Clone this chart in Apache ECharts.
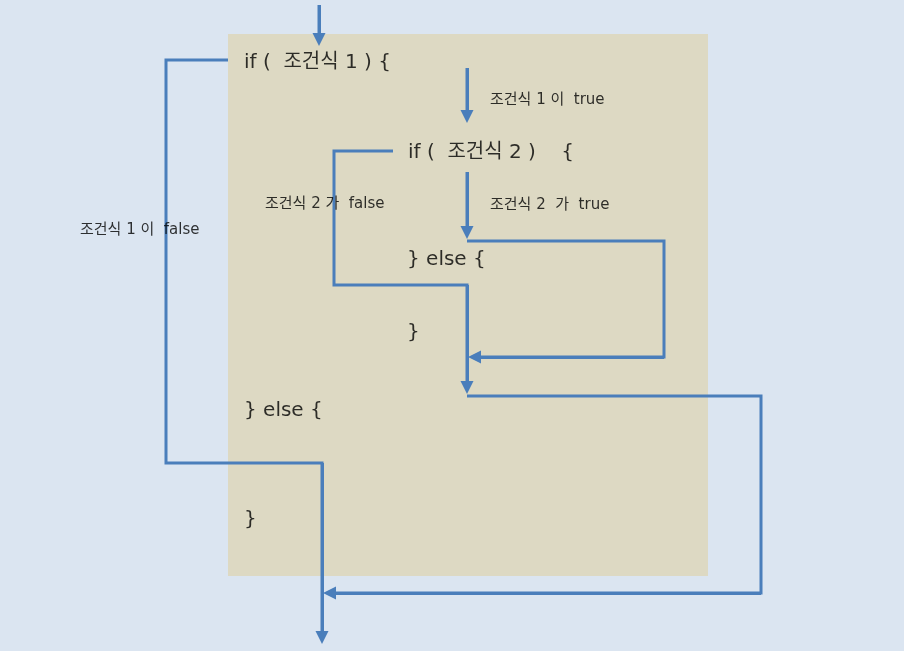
<!DOCTYPE html>
<html>
<head>
<meta charset="utf-8">
<script src="https://cdn.jsdelivr.net/npm/echarts@6/dist/echarts.min.js"></script>
<style>
  html, body { margin: 0; padding: 0; background: #dbe5f1; }
  #flow { width: 904px; height: 651px; }
</style>
</head>
<body>
<div id="flow"></div>
<script>
// diagram space: x 0..904, y 0..651 (y grows downward)
var boxArea = [[228, 34], [708, 576]];

// connector paths, last point = arrow tip
var topArrow   = [[319, 5], [319, 46]];
var falsePath1 = [[228, 60], [166, 60], [166, 463], [322, 463], [322, 644]];
var truePath1  = [[467, 68], [467, 123]];
var falsePath2 = [[393, 151], [334, 151], [334, 285], [467, 285], [467, 394]];
var truePath2  = [[467, 172], [467, 239]];
var elsePath2  = [[467, 241], [664, 241], [664, 357], [468, 357]];
var exitPath   = [[467, 396], [761, 396], [761, 593], [323, 593]];
var paths = [topArrow, falsePath1, truePath1, falsePath2, truePath2, elsePath2, exitPath];

// code text and condition labels: [text, x, y]
var codeLines = [
  ['if (  조건식 1 ) {', 244, 63],
  ['if (  조건식 2 )    {', 408, 153],
  ['} else {', 407, 260],
  ['}', 407, 333],
  ['} else {', 244, 411],
  ['}', 244, 520]
];
var condLabels = [
  ['조건식 1 이  true', 490, 100],
  ['조건식 2 가  false', 265, 204],
  ['조건식 2  가  true', 490, 205],
  ['조건식 1 이  false', 80, 230]
];

var lineColor = '#4a7ebb';
var arrowLen = 13;

var chart = echarts.init(document.getElementById('flow'));

var series = [];
series.push({
  type: 'line', z: 0, silent: true, data: [],
  markArea: {
    silent: true,
    itemStyle: { color: '#ddd9c3', opacity: 1 },
    data: [[{ coord: boxArea[0] }, { coord: boxArea[1] }]]
  }
});

var arrowSegs = [];
paths.forEach(function (p) {
  var n = p.length;
  var a = p[n - 2], b = p[n - 1];
  var dx = b[0] - a[0], dy = b[1] - a[1];
  var len = Math.sqrt(dx * dx + dy * dy);
  var end = [b[0] - dx / len * arrowLen / 2, b[1] - dy / len * arrowLen / 2];
  var pts = p.slice(0, n - 1).concat([end]);
  series.push({
    type: 'line', z: 2, silent: true, data: pts,
    showSymbol: false, symbol: 'none', animation: false,
    lineStyle: { color: lineColor, width: 3, join: 'miter' }
  });
  arrowSegs.push({ coords: [a, end] });
});

series.push({
  type: 'lines', coordinateSystem: 'cartesian2d', z: 3, silent: true,
  symbol: ['none', 'triangle'], symbolSize: [12, arrowLen],
  lineStyle: { color: lineColor, width: 3, opacity: 1 },
  data: arrowSegs, animation: false
});

function textSeries(rows, size) {
  return {
    type: 'scatter', z: 4, silent: true, symbolSize: 0,
    data: rows.map(function (r) { return [r[1], r[2], r[0]]; }),
    label: {
      show: true, position: 'right', distance: 0,
      formatter: function (p) { return p.data[2]; },
      color: '#000', fontSize: size,
      fontFamily: "'DejaVu Sans', 'Noto Sans CJK KR'"
    },
    animation: false
  };
}
series.push(textSeries(codeLines, 20));
series.push(textSeries(condLabels, 15));

chart.setOption({
  backgroundColor: '#dbe5f1',
  animation: false,
  grid: { left: 0, right: 0, top: 0, bottom: 0 },
  xAxis: { type: 'value', min: 0, max: 904, show: false },
  yAxis: { type: 'value', min: 0, max: 651, inverse: true, show: false },
  series: series
});
</script>
</body>
</html>
